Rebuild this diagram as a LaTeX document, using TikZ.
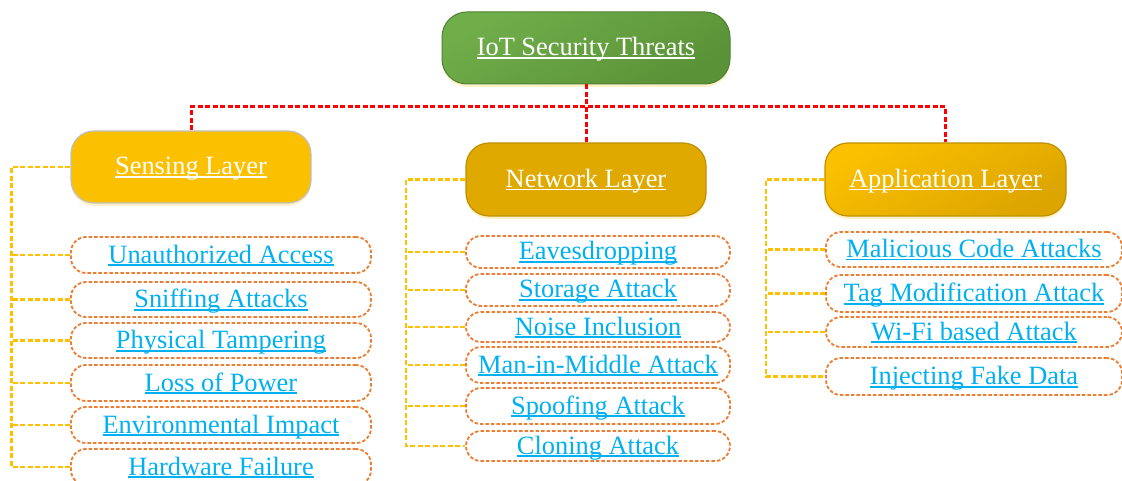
\documentclass[tikz,border=0pt]{standalone}
\usepackage{fontspec}
\setmainfont{Liberation Serif}
\usetikzlibrary{shadows}
\definecolor{redc}{HTML}{FF0000}
\definecolor{yelc}{HTML}{FFC000}
\definecolor{orc}{HTML}{ED7D31}
\definecolor{bluec}{HTML}{00B0F0}
\definecolor{grA}{HTML}{70AE4A}
\definecolor{grB}{HTML}{5A9237}
\definecolor{grBorder}{HTML}{507F32}
\definecolor{goldA}{HTML}{FBC000}
\definecolor{goldB}{HTML}{DCA500}
\definecolor{goldN}{HTML}{DFA900}
\definecolor{goldBorder}{HTML}{BF9000}
\definecolor{glow}{HTML}{FFE9A8}
\newcommand\ulin[1]{\setbox0\hbox{#1}\rlap{\rule[-3pt]{\wd0}{1.6pt}}\box0}
\begin{document}
\begin{tikzpicture}[x=1pt,y=-1pt,
  txt/.style={font=\fontsize{26.4}{30}\selectfont, text height=20pt, text depth=4pt, inner sep=0pt},
  glowshadow/.style={drop shadow={shadow xshift=0pt, shadow yshift=-3pt, opacity=0.6, fill=glow}},
  rootbox/.style={txt, draw=grBorder, line width=1pt, rounded corners=25pt,
    top color=grA, bottom color=grB, shading angle=30, text=white,
    minimum width=288pt, minimum height=72pt, glowshadow},
  layerbox/.style={txt, line width=1.2pt, rounded corners=23pt, text=white,
    minimum width=240pt, minimum height=72pt, glowshadow},
  childbox/.style={txt, draw=orc, line width=1.8pt, dash pattern=on 3.5pt off 2pt,
    rounded corners=15pt, text=bluec, fill=white},
  redline/.style={draw=redc, line width=3pt, dash pattern=on 5pt off 2.5pt},
  yline/.style={draw=yelc, line width=2.6pt, dash pattern=on 5pt off 2.5pt}
]
\useasboundingbox (0,0) rectangle (1122,481);

% root and layers
\node[rootbox] (root) at (586,48) {\ulin{IoT Security Threats}};
\node[layerbox, draw=black!25, fill=goldA] (sens) at (191,167) {\ulin{Sensing Layer}};
\node[layerbox, draw=goldBorder, fill=goldN, minimum height=73pt] (net) at (586,179.5) {\ulin{Network Layer}};
\node[layerbox, draw=goldBorder, top color=goldA, bottom color=goldB, shading angle=30,
  minimum width=241pt, minimum height=73pt] (app) at (945.5,179.5) {\ulin{Application Layer}};

% sensing children
\node[childbox, minimum width=300pt, minimum height=36pt] (s1) at (221,255) {\ulin{Unauthorized Access}};
\node[childbox, minimum width=300pt, minimum height=35pt] (s2) at (221,299.5) {\ulin{Sniffing Attacks}};
\node[childbox, minimum width=300pt, minimum height=35pt] (s3) at (221,340.5) {\ulin{Physical Tampering}};
\node[childbox, minimum width=300pt, minimum height=36pt] (s4) at (221,383) {\ulin{Loss of Power}};
\node[childbox, minimum width=300pt, minimum height=36pt] (s5) at (221,425) {\ulin{Environmental Impact}};
\node[childbox, minimum width=300pt, minimum height=36pt] (s6) at (221,467) {\ulin{Hardware Failure}};

% network children
\node[childbox, minimum width=264pt, minimum height=32pt] (n1) at (598,252) {\ulin{Eavesdropping}};
\node[childbox, minimum width=264pt, minimum height=32pt] (n2) at (598,290) {\ulin{Storage Attack}};
\node[childbox, minimum width=264pt, minimum height=30pt] (n3) at (598,327) {\ulin{Noise Inclusion}};
\node[childbox, minimum width=264pt, minimum height=36pt] (n4) at (598,365) {\ulin{Man-in-Middle Attack}};
\node[childbox, minimum width=264pt, minimum height=36pt] (n5) at (598,406) {\ulin{Spoofing Attack}};
\node[childbox, minimum width=264pt, minimum height=30pt] (n6) at (598,446) {\ulin{Cloning Attack}};

% application children
\node[childbox, minimum width=296pt, minimum height=35pt] (a1) at (974,249.5) {\ulin{Malicious Code Attacks}};
\node[childbox, minimum width=296pt, minimum height=37pt] (a2) at (974,293.5) {\ulin{Tag Modification Attack}};
\node[childbox, minimum width=296pt, minimum height=30pt] (a3) at (974,332) {\ulin{Wi-Fi based Attack}};
\node[childbox, minimum width=296pt, minimum height=37pt] (a4) at (974,376.5) {\ulin{Injecting Fake Data}};

% red bus
\coordinate (bus) at (586,107);
\draw[redline] (root.south) -- (net.north);
\draw[redline] (sens.north) |- (bus) -| (app.north);

% yellow connectors
\coordinate (sbus) at (11.5,167);
\coordinate (nbus) at (406,179.5);
\coordinate (abus) at (766,179.5);
\draw[yline] (sens.west) -- (sbus) |- (s6.west);
\foreach \i in {1,...,5} \draw[yline] (s\i.west) -- (s\i.west -| sbus);
\draw[yline] (net.west) -- (nbus) |- (n6.west);
\foreach \i in {1,...,5} \draw[yline] (n\i.west) -- (n\i.west -| nbus);
\draw[yline] (app.west) -- (abus) |- (a4.west);
\foreach \i in {1,...,3} \draw[yline] (a\i.west) -- (a\i.west -| abus);
\end{tikzpicture}
\end{document}
